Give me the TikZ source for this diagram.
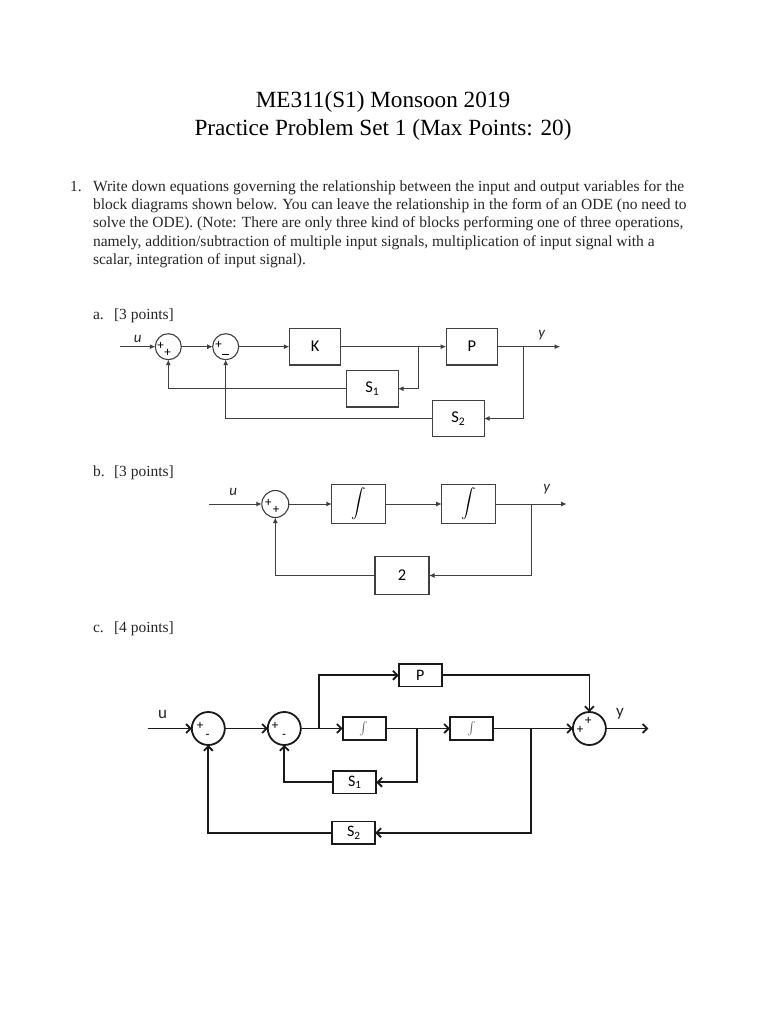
\documentclass[tikz,border=0pt]{standalone}
\usepackage{fontspec}
\setmainfont{Liberation Serif}
\newfontfamily\diagfont{Carlito}
\usetikzlibrary{arrows.meta,positioning}
\definecolor{thinline}{HTML}{404040}
\definecolor{inkline}{HTML}{1A1A1A}
\begin{document}
\begin{tikzpicture}[x=1pt,y=-1pt,
  title/.style={font=\fontsize{23.2}{26}\selectfont,inner sep=0pt,outer sep=0pt},
  body/.style={font=\fontsize{15.5}{18.3}\selectfont,inner sep=0pt,outer sep=0pt,anchor=base west,color=black!85},
  txt/.style={font=\diagfont\itshape\fontsize{15}{16}\selectfont,inner sep=0pt,color=black!85},
  sgn/.style={font=\diagfont\fontsize{13}{13}\selectfont,inner sep=0pt},
  blk/.style={draw=thinline,line width=1.1pt,outer sep=0pt,inner sep=0pt,minimum width=51.5pt,minimum height=36.5pt,font=\diagfont\fontsize{16.5}{18}\selectfont},
  cblk/.style={draw=inkline,line width=1.8pt,outer sep=0pt,inner sep=0pt,minimum width=43pt,minimum height=22.5pt,font=\diagfont\fontsize{16}{18}\selectfont},
  sumj/.style={circle,draw=thinline,line width=1.1pt,outer sep=0pt,inner sep=0pt,minimum size=26pt},
  csum/.style={circle,draw=inkline,line width=1.8pt,outer sep=0pt,inner sep=0pt,minimum size=33pt},
  arr/.style={-{Latex[length=5.5pt,width=5pt]},draw=thinline,line width=1pt},
  carr/.style={-{Straight Barb[length=4.5pt,width=9pt]},draw=inkline,line width=1.8pt}]
\useasboundingbox[fill=white] (0,0) rectangle (768,1024);
% heading and question
\node[title] (head1) at (383,101.5) {ME311(S1) Monsoon 2019};
\node[title] (head2) at (383,129.5) {Practice Problem Set 1 (Max Points: 20)};
\node[body] (qnum) at (70,192) {1.};
\node[body] (q1) at (93,192) {Write down equations governing the relationship between the input and output variables for the};
\node[body] (q2) at (93,210) {block diagrams shown below. You can leave the relationship in the form of an ODE (no need to};
\node[body] (q3) at (93,228) {solve the ODE). (Note: There are only three kind of blocks performing one of three operations,};
\node[body] (q4) at (93,246.5) {namely, addition/subtraction of multiple input signals, multiplication of input signal with a};
\node[body] (q5) at (93,264.5) {scalar, integration of input signal).};
\node[body] (parta) at (93,319) {a.};
\node[body] (ptsa) at (114,319) {[3 points]};
\node[body] (partb) at (93,476) {b.};
\node[body] (ptsb) at (114,476) {[3 points]};
\node[body] (partc) at (93,632) {c.};
\node[body] (ptsc) at (114,632) {[4 points]};
% diagram a
\node[sumj] (a1) at (168.3,346.7) {};
\node[sumj,right=31.4pt of a1] (a2) {};
\node[blk,right=50.6pt of a2] (aK) {K};
\node[blk,right=105.3pt of aK] (aP) {P};
\node[blk] (aS1) at (372.3,388.7) {S\textsubscript{1}};
\node[blk] (aS2) at (458.3,418.5) {S\textsubscript{2}};
\coordinate (ain) at (120,346.7);
\coordinate (aout) at (560,346.7);
\coordinate (aj1) at (418.3,346.7);
\coordinate (aj2) at (523.3,346.7);
\node[txt] (au) at (137.7,338.5) {u};
\node[txt] (ay) at (541.7,335.5) {y};
\node[sgn] (a1p) at (160.7,345.5) {+};
\node[sgn] (a1q) at (167.7,352.5) {+};
\node[sgn] (a2p) at (218.7,345) {+};
\node[sgn] (a2m) at (225.7,354.7) {\rule{7pt}{1.2pt}};
\draw[arr] (ain)--(a1); \draw[arr] (a1)--(a2); \draw[arr] (a2)--(aK); \draw[arr] (aK)--(aP); \draw[arr] (aP)--(aout);
\draw[arr] (aj1) |- (aS1); \draw[arr] (aS1) -| (a1);
\draw[arr] (aj2) |- (aS2); \draw[arr] (aS2) -| (a2);
% diagram b
\node[sumj,minimum size=27pt] (b1) at (275.3,504) {};
\node[blk,minimum width=53.5pt,minimum height=39pt,right=43pt of b1] (bI1) {\scalebox{1.45}{$\displaystyle\int$}};
\node[blk,minimum width=54pt,minimum height=39pt,right=56.4pt of bI1] (bI2) {\scalebox{1.45}{$\displaystyle\int$}};
\node[blk,minimum width=54pt,minimum height=38pt] (bG) at (402,575.5) {2};
\coordinate (bin) at (209.3,504);
\coordinate (bout) at (566.7,504);
\coordinate (bj) at (531.3,504);
\node[txt] (bu) at (233.3,492) {u};
\node[txt] (by) at (546.7,489.5) {y};
\node[sgn] (b1p) at (268.3,503) {+};
\node[sgn] (b1q) at (276,510) {+};
\draw[arr] (bin)--(b1); \draw[arr] (b1)--(bI1); \draw[arr] (bI1)--(bI2); \draw[arr] (bI2)--(bout);
\draw[arr] (bj) |- (bG); \draw[arr] (bG) -| (b1);
% diagram c
\node[csum] (c1) at (208.3,728.5) {};
\node[csum,right=43pt of c1] (c2) {};
\node[cblk,right=41.9pt of c2] (cI1) {\color{black!60}\scalebox{1.3}{$\int$}};
\node[cblk,right=64.3pt of cI1] (cI2) {\color{black!60}\scalebox{1.3}{$\int$}};
\node[csum,right=79.9pt of cI2] (c3) {};
\node[cblk] (cP) at (420.2,675.3) {P};
\node[cblk] (cS1) at (354.8,782.3) {S\textsubscript{1}};
\node[cblk] (cS2) at (353.8,832.8) {S\textsubscript{2}};
\coordinate (cin) at (148,728.5);
\coordinate (cout) at (648.3,728.5);
\coordinate (cj0) at (319,728.5);
\coordinate (cj1) at (417.3,728.5);
\coordinate (cj2) at (530.7,728.5);
\node[txt,font=\diagfont\fontsize{17}{18}\selectfont] (cu) at (162.7,714) {u};
\node[txt,font=\diagfont\fontsize{17}{18}\selectfont] (cy) at (620,714) {y};
\node[sgn] (c1p) at (200,726) {+};
\node[sgn] (c1m) at (207.7,736.5) {-};
\node[sgn] (c2p) at (275,726) {+};
\node[sgn] (c2m) at (284,736.5) {-};
\node[sgn] (c3p) at (588.3,720.5) {+};
\node[sgn] (c3q) at (580,730) {+};
\draw[carr] (cin)--(c1); \draw[carr] (c1)--(c2); \draw[carr] (c2)--(cI1); \draw[carr] (cI1)--(cI2); \draw[carr] (cI2)--(c3); \draw[carr] (c3)--(cout);
\draw[carr] (cj0) |- (cP); \draw[carr] (cP) -| (c3);
\draw[carr] (cj1) |- (cS1); \draw[carr] (cS1) -| (c2);
\draw[carr] (cj2) |- (cS2); \draw[carr] (cS2) -| (c1);
\end{tikzpicture}
\end{document}
